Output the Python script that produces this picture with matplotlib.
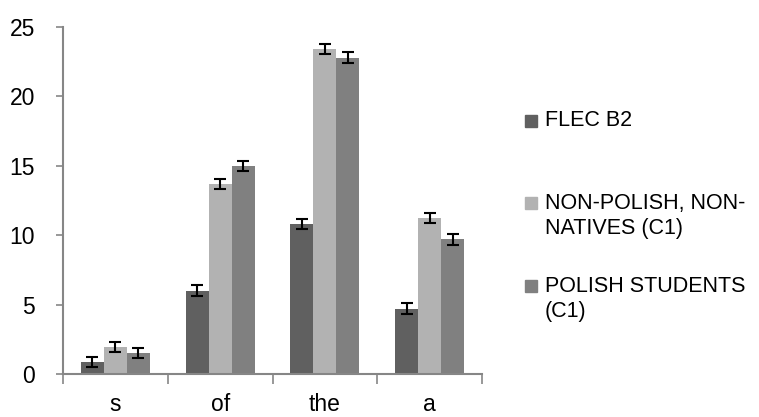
import matplotlib
matplotlib.use("Agg")
import matplotlib.pyplot as plt
import numpy as np
from matplotlib.patches import Rectangle

categories = ["s", "of", "the", "a"]
series_names = ["FLEC B2", "NON-POLISH, NON-\nNATIVES (C1)", "POLISH STUDENTS\n(C1)"]
flec = [0.85, 6.0, 10.8, 4.7]
non_polish = [1.95, 13.7, 23.4, 11.25]
polish = [1.5, 15.0, 22.8, 9.7]
err_flec = [0.38, 0.38, 0.38, 0.38]
err_non_polish = [0.38, 0.38, 0.38, 0.38]
err_polish = [0.38, 0.38, 0.38, 0.38]
y_ticks = [0, 5, 10, 15, 20, 25]

colors = ["#606060", "#b2b2b2", "#808080"]

plt.rcParams["font.family"] = ["Liberation Sans", "DejaVu Sans"]

fig = plt.figure(figsize=(7.59, 4.17), dpi=100)
ax = fig.add_axes([63/759, 1-374/417, (482-63)/759, (374-27)/417])

x = np.arange(len(categories))
w = 0.22
data = [flec, non_polish, polish]
errs = [err_flec, err_non_polish, err_polish]
for i, (vals, e) in enumerate(zip(data, errs)):
    ax.bar(x + (i-1)*w, vals, width=w, color=colors[i], edgecolor="none", zorder=2)
    ax.errorbar(x + (i-1)*w, vals, yerr=e, fmt="none", ecolor="black",
                elinewidth=1.5, capsize=4.3, capthick=1.5, zorder=3)

ax.set_xlim(-0.5, len(categories)-0.5)
ax.set_ylim(0, 25)
ax.set_yticks(y_ticks)
ax.set_yticklabels([str(t) for t in y_ticks], fontsize=16.5)
ax.set_xticks(np.arange(len(categories)+1)-0.5)
ax.set_xticklabels([])
ax.set_xticks(x, minor=True)
ax.set_xticklabels(categories, minor=True, fontsize=16.5)
ax.tick_params(axis="x", which="major", direction="out", length=7, width=1.2, color="#868686")
ax.tick_params(axis="x", which="minor", length=0, pad=14)
ax.tick_params(axis="y", direction="out", length=5, width=1.2, color="#868686", pad=15)
for s in ["top", "right"]:
    ax.spines[s].set_visible(False)
for s in ["left", "bottom"]:
    ax.spines[s].set_color("#868686")
    ax.spines[s].set_linewidth(1.5)

# legend
leg_y = [121, 216, 299]
for i, (name, yc) in enumerate(zip(series_names, leg_y)):
    nlines = name.count("\n") + 1
    first_center = yc - (nlines-1)*13
    fig.patches.append(Rectangle((525/759, 1-(first_center+6)/417), 12/759, 12/417,
                                 transform=fig.transFigure, color=colors[i]))
    fig.text(545/759, 1-yc/417, name, fontsize=15.5, va="center", ha="left",
             linespacing=1.25)

fig.savefig("out.png", dpi=100)
